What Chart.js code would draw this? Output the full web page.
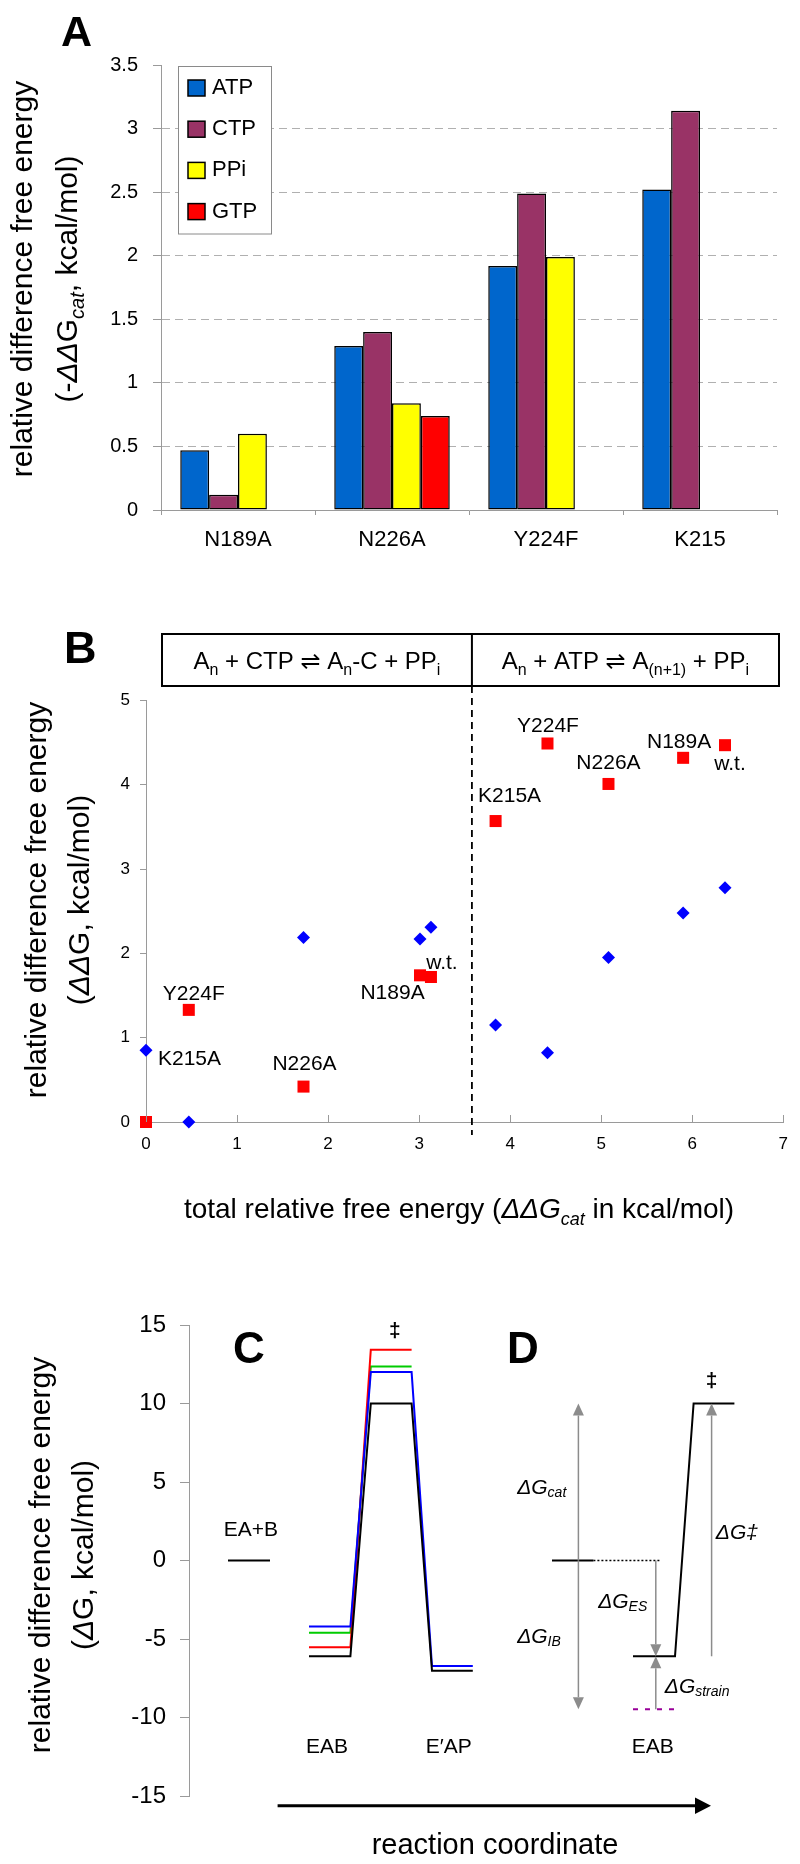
<!DOCTYPE html>
<html><head><meta charset="utf-8">
<script src="https://cdn.jsdelivr.net/npm/chart.js@4.4.0/dist/chart.umd.min.js"></script>
<style>
html,body{margin:0;padding:0;background:#fff;}
body{width:800px;height:1864px;position:relative;overflow:hidden;}
.pane{position:absolute;left:0;}
canvas{display:block;}
</style></head><body>
<div class="pane" style="top:0px"><canvas id="cA" width="800" height="600"></canvas></div>
<div class="pane" style="top:600px"><canvas id="cB" width="800" height="640"></canvas></div>
<div class="pane" style="top:1240px"><canvas id="cC" width="800" height="624"></canvas></div>
<script>
// ---------------- DATA ----------------
// Panel A
const categoriesA = ['N189A', 'N226A', 'Y224F', 'K215'];
const seriesNamesA = ['ATP', 'CTP', 'PPi', 'GTP'];
const atpA = [0.47, 1.29, 1.92, 2.52];
const ctpA = [0.12, 1.40, 2.49, 3.14];
const ppiA = [0.60, 0.84, 1.99, null];
const gtpA = [null, 0.74, null, null];
const yTicksA = [0, 0.5, 1, 1.5, 2, 2.5, 3, 3.5];

// Panel B
const mutantsB = ['w.t.', 'N189A', 'N226A', 'Y224F', 'K215A'];
const ctpDDGcat = [3.13, 3.01, 1.73, 0.47, 0.00];
const ctpRedB = [1.72, 1.74, 0.42, 1.33, 0.00];
const ctpBlueB = [2.31, 2.17, 2.19, 0.00, 0.85];
const atpDDGcat = [6.36, 5.90, 5.08, 4.41, 3.84];
const atpRedB = [4.47, 4.32, 4.01, 4.49, 3.57];
const atpBlueB = [2.78, 2.48, 1.95, 0.82, 1.15];
const dividerB = 3.58;
const xTicksB = [0, 1, 2, 3, 4, 5, 6, 7];
const yTicksB = [0, 1, 2, 3, 4, 5];

// Panel C / D (free energy profiles)
const stateXC = [[2.00, 2.69], [3.03, 3.71], [4.05, 4.73]];   // EAB, TS, E'AP
const blackC = [-6.10, 10.00, -7.02];
const blueC = [-4.21, 12.00, -6.72];
const greenC = [-4.60, 12.36];
const redC = [-5.53, 13.42];
const eaBX = [0.65, 1.35];
const eaBG = 0;
const initXD = [6.05, 6.74];
const initGD = 0;
const refXD = [6.74, 7.85];
const stateXD = [[7.40, 8.10], [8.41, 9.09]];   // EAB, TS
const profileD = [-6.10, 10.00];
const strainXD = [7.40, 8.10];
const strainGD = -9.47;
const yTicksC = [-15, -10, -5, 0, 5, 10, 15];
const arrowsD = [[6.49, 0, 10], [6.49, 0, -9.47], [7.78, 0, -6.10], [7.78, -9.47, -6.10], [8.71, -6.10, 10]];

// ---------------- HELPERS ----------------
const F = "'Liberation Sans', Arial, 'DejaVu Sans', sans-serif";
Chart.defaults.font.family = F;
Chart.defaults.color = '#000';
const AX = '#9a9a9a';

function rich(ctx, parts, x, y, o) {
  const size = o.size;
  const fontFor = p => (p.i ? 'italic ' : '') + (o.bold ? 'bold ' : '') +
    ((p.sub || p.sup) ? Math.round(size * 0.66) : size) + 'px ' + F;
  let w = 0;
  parts.forEach(p => { ctx.font = fontFor(p); p._w = ctx.measureText(p.t).width; w += p._w; });
  ctx.save();
  ctx.translate(x, y);
  if (o.rot) ctx.rotate(o.rot);
  let cx = o.align === 'center' ? -w / 2 : (o.align === 'right' ? -w : 0);
  ctx.fillStyle = o.color || '#000';
  ctx.textBaseline = o.baseline || 'alphabetic';
  ctx.textAlign = 'left';
  parts.forEach(p => {
    ctx.font = fontFor(p);
    const dy = p.sub ? size * 0.24 : (p.sup ? -size * 0.35 : 0);
    ctx.fillText(p.t, cx, dy);
    cx += p._w;
  });
  ctx.restore();
}
function T(t, extra) { return Object.assign({t: t}, extra || {}); }

// ---------------- PANEL A ----------------
const colorsA = ['#0066CC', '#993366', '#FFFF00', '#FF0000'];
const decorA = {
  id: 'decorA',
  afterDraw(chart) {
    const ctx = chart.ctx;
    rich(ctx, [T('A')], 61, 46, {size: 43, bold: true});
    rich(ctx, [T('relative difference free energy')], 32, 279, {size: 30, rot: -Math.PI / 2, align: 'center'});
    rich(ctx, [T('(-'), T('ΔΔ', {i: 1}), T('G'), T('cat', {i: 1, sub: 1}), T(', kcal/mol)')], 77, 279,
      {size: 30, rot: -Math.PI / 2, align: 'center'});
    // legend
    ctx.save();
    ctx.fillStyle = '#fff';
    ctx.strokeStyle = '#8a8a8a';
    ctx.lineWidth = 1;
    ctx.fillRect(178.5, 66.5, 93, 167.5);
    ctx.strokeRect(178.5, 66.5, 93, 167.5);
    chart.data.datasets.forEach((ds, i) => {
      const top = 80 + i * 41.2;
      ctx.fillStyle = ds.backgroundColor;
      ctx.fillRect(188, top, 17, 16);
      ctx.strokeStyle = '#000';
      ctx.lineWidth = 1.5;
      ctx.strokeRect(188, top, 17, 16);
      rich(ctx, [T(ds.label)], 212, top + 8, {size: 22, baseline: 'middle'});
    });
    ctx.restore();
  }
};
new Chart(document.getElementById('cA'), {
  type: 'bar',
  data: {
    labels: categoriesA,
    datasets: [atpA, ctpA, ppiA, gtpA].map((d, i) => ({
      label: seriesNamesA[i], data: d, backgroundColor: colorsA[i],
      borderColor: '#000', borderWidth: 1.5, borderSkipped: false,
      categoryPercentage: 0.75, barPercentage: 1.0
    }))
  },
  options: {
    responsive: false, animation: false, devicePixelRatio: 1,
    layout: {padding: {left: 0, top: 65, right: 23, bottom: 0}},
    plugins: {legend: {display: false}, tooltip: {enabled: false}},
    scales: {
      x: {
        grid: {display: true, drawOnChartArea: false, drawTicks: true, tickLength: 5, color: AX, tickColor: AX, offset: true},
        border: {display: true, color: AX, width: 1},
        ticks: {font: {size: 22}, color: '#000', padding: 12, maxRotation: 0},
        afterFit: s => { s.height = 90; }
      },
      y: {
        min: yTicksA[0], max: yTicksA[yTicksA.length - 1],
        afterBuildTicks: s => { s.ticks = yTicksA.map(v => ({value: v})); },
        ticks: {font: {size: 20}, color: '#000', padding: 15, callback: v => String(v)},
        grid: {
          color: c => (c.tick && (c.tick.value === 0 || c.tick.value === 3.5)) ? 'rgba(0,0,0,0)' : '#b0b0b0',
          tickColor: AX, tickLength: 8, tickBorderDash: [], lineWidth: 1
        },
        border: {display: true, color: AX, dash: [8, 5]},
        afterFit: s => { s.width = 161; }
      }
    }
  },
  plugins: [decorA]
});

// ---------------- PANEL B ----------------
const atpLabelOff = [[5, 19.5], [-4, -15.5], [0, -20.5], [0.5, -17], [14, -25]];
const ctpLabelOff = [[11, -14], [-27.5, 18], [1, -22], [5, -16], [43.5, -63]];
const decorB = {
  id: 'decorB',
  afterDraw(chart) {
    const ctx = chart.ctx, xs = chart.scales.x, ys = chart.scales.y;
    const xd = xs.getPixelForValue(dividerB);
    ctx.save();
    // inside ticks on x axis
    ctx.strokeStyle = AX; ctx.lineWidth = 1;
    xTicksB.forEach(v => {
      const px = Math.round(xs.getPixelForValue(v)) + 0.5;
      ctx.beginPath(); ctx.moveTo(px, ys.bottom); ctx.lineTo(px, ys.bottom - 7); ctx.stroke();
    });
    // reaction box
    ctx.strokeStyle = '#000'; ctx.lineWidth = 2;
    ctx.strokeRect(162, 34, 617, 52);
    ctx.beginPath(); ctx.moveTo(xd, 34); ctx.lineTo(xd, 86); ctx.stroke();
    // dashed divider
    ctx.lineWidth = 1.8; ctx.setLineDash([7, 5]);
    ctx.beginPath(); ctx.moveTo(xd, 86); ctx.lineTo(xd, ys.bottom + 13); ctx.stroke();
    ctx.setLineDash([]);
    ctx.restore();
    rich(ctx, [T('A'), T('n', {sub: 1}), T(' + CTP ⇌ A'), T('n', {sub: 1}), T('-C + PP'), T('i', {sub: 1})],
      (162 + xd) / 2, 69, {size: 24, align: 'center'});
    rich(ctx, [T('A'), T('n', {sub: 1}), T(' + ATP ⇌ A'), T('(n+1)', {sub: 1}), T(' + PP'), T('i', {sub: 1})],
      (xd + 779) / 2, 69, {size: 24, align: 'center'});
    // point labels
    mutantsB.forEach((m, i) => {
      rich(ctx, [T(m)], xs.getPixelForValue(atpDDGcat[i]) + atpLabelOff[i][0],
        ys.getPixelForValue(atpRedB[i]) + atpLabelOff[i][1], {size: 21, align: 'center', baseline: 'middle'});
      rich(ctx, [T(m)], xs.getPixelForValue(ctpDDGcat[i]) + ctpLabelOff[i][0],
        ys.getPixelForValue(ctpRedB[i]) + ctpLabelOff[i][1], {size: 21, align: 'center', baseline: 'middle'});
    });
    rich(ctx, [T('B')], 64, 63, {size: 45, bold: true});
    rich(ctx, [T('relative difference free energy')], 46, 300, {size: 30, rot: -Math.PI / 2, align: 'center'});
    rich(ctx, [T('('), T('ΔΔ', {i: 1}), T('G, kcal/mol)')], 89, 300, {size: 30, rot: -Math.PI / 2, align: 'center'});
    rich(ctx, [T('total relative free energy ('), T('ΔΔ', {i: 1}), T('G', {i: 1}), T('cat', {i: 1, sub: 1}), T(' in kcal/mol)')],
      459, 618, {size: 28, align: 'center'});
  }
};
const pts = (xa, ya) => xa.map((x, i) => ({x: x, y: ya[i]}));
new Chart(document.getElementById('cB'), {
  type: 'scatter',
  data: {
    datasets: [
      {label: 'CTP ΔG (red)', data: pts(ctpDDGcat, ctpRedB), pointStyle: 'rect', pointRadius: 8.5, backgroundColor: '#FF0000', borderColor: '#FF0000', borderWidth: 0, clip: false},
      {label: 'ATP ΔG (red)', data: pts(atpDDGcat, atpRedB), pointStyle: 'rect', pointRadius: 8.5, backgroundColor: '#FF0000', borderColor: '#FF0000', borderWidth: 0, clip: false},
      {label: 'CTP ΔG (blue)', data: pts(ctpDDGcat, ctpBlueB), pointStyle: 'rectRot', pointRadius: 6.5, backgroundColor: '#0000FF', borderColor: '#0000FF', borderWidth: 0, clip: false},
      {label: 'ATP ΔG (blue)', data: pts(atpDDGcat, atpBlueB), pointStyle: 'rectRot', pointRadius: 6.5, backgroundColor: '#0000FF', borderColor: '#0000FF', borderWidth: 0, clip: false}
    ]
  },
  options: {
    responsive: false, animation: false, devicePixelRatio: 1,
    layout: {padding: {left: 0, top: 100.5, right: 13, bottom: 0}},
    plugins: {legend: {display: false}, tooltip: {enabled: false}},
    scales: {
      x: {
        type: 'linear', min: xTicksB[0], max: xTicksB[xTicksB.length - 1],
        afterBuildTicks: s => { s.ticks = xTicksB.map(v => ({value: v})); },
        grid: {display: true, drawOnChartArea: false, drawTicks: false},
        border: {display: true, color: AX},
        ticks: {font: {size: 17}, color: '#000', padding: 12},
        afterFit: s => { s.height = 118; }
      },
      y: {
        min: yTicksB[0], max: yTicksB[yTicksB.length - 1],
        afterBuildTicks: s => { s.ticks = yTicksB.map(v => ({value: v})); },
        grid: {display: true, drawOnChartArea: false, tickLength: 6, tickColor: AX},
        border: {display: true, color: AX},
        ticks: {font: {size: 17}, color: '#000', padding: 10},
        afterFit: s => { s.width = 146; }
      }
    }
  },
  plugins: [decorB]
});

// ---------------- PANEL C / D ----------------
function profile(stateX, gs) {
  const out = [];
  gs.forEach((g, i) => { out.push({x: stateX[i][0], y: g}); out.push({x: stateX[i][1], y: g}); });
  return out;
}
const lineDs = (label, data, color, extra) => Object.assign({
  label: label, data: data, borderColor: color, backgroundColor: color, borderWidth: 2,
  pointRadius: 0, tension: 0, fill: false
}, extra || {});
const cLabels = [['EA+B', 1.03, 1.94], ['EAB', 2.30, -11.9], ['E′AP', 4.33, -11.9], ['EAB', 7.73, -11.9]];
const daggers = [[3.43, 14.6], [8.71, 11.4]];
const dLabels = [
  [[T('ΔG', {i: 1}), T('cat', {i: 1, sub: 1})], 5.47, 4.6],
  [[T('ΔG', {i: 1}), T('IB', {i: 1, sub: 1})], 5.47, -4.87],
  [[T('ΔG', {i: 1}), T('ES', {i: 1, sub: 1})], 6.82, -2.64],
  [[T('ΔG', {i: 1}), T('strain', {i: 1, sub: 1})], 7.93, -8.05],
  [[T('ΔG‡', {i: 1})], 8.78, 1.74]
];
function arrow(ctx, x, y0, y1, color) {
  const dir = Math.sign(y1 - y0), hl = 12, hw = 5.5;
  ctx.strokeStyle = color; ctx.fillStyle = color; ctx.lineWidth = 1.5;
  ctx.beginPath(); ctx.moveTo(x, y0); ctx.lineTo(x, y1 - dir * hl); ctx.stroke();
  ctx.beginPath(); ctx.moveTo(x, y1); ctx.lineTo(x - hw, y1 - dir * hl); ctx.lineTo(x + hw, y1 - dir * hl); ctx.closePath(); ctx.fill();
}
const decorC = {
  id: 'decorC',
  afterDraw(chart) {
    const ctx = chart.ctx, xs = chart.scales.x, ys = chart.scales.y;
    ctx.save();
    arrowsD.forEach(a => arrow(ctx, xs.getPixelForValue(a[0]), ys.getPixelForValue(a[1]), ys.getPixelForValue(a[2]), '#8c8c8c'));
    // reaction coordinate arrow
    ctx.strokeStyle = '#000'; ctx.fillStyle = '#000'; ctx.lineWidth = 3;
    ctx.beginPath(); ctx.moveTo(277.6, 565.7); ctx.lineTo(697, 565.7); ctx.stroke();
    ctx.beginPath(); ctx.moveTo(711, 565.7); ctx.lineTo(695, 557.5); ctx.lineTo(695, 573.9); ctx.closePath(); ctx.fill();
    ctx.restore();
    cLabels.forEach(l => rich(ctx, [T(l[0])], xs.getPixelForValue(l[1]), ys.getPixelForValue(l[2]), {size: 21, align: 'center', baseline: 'middle'}));
    daggers.forEach(d => rich(ctx, [T('‡')], xs.getPixelForValue(d[0]), ys.getPixelForValue(d[1]), {size: 21, bold: true, align: 'center', baseline: 'middle'}));
    dLabels.forEach(l => rich(ctx, l[0], xs.getPixelForValue(l[1]), ys.getPixelForValue(l[2]), {size: 21, baseline: 'middle'}));
    rich(ctx, [T('C')], 233, 123, {size: 44, bold: true});
    rich(ctx, [T('D')], 507, 123, {size: 44, bold: true});
    rich(ctx, [T('relative difference free energy')], 50, 315, {size: 30, rot: -Math.PI / 2, align: 'center'});
    rich(ctx, [T('('), T('Δ', {i: 1}), T('G, kcal/mol)')], 93, 315, {size: 30, rot: -Math.PI / 2, align: 'center'});
    rich(ctx, [T('reaction coordinate')], 495, 614, {size: 29, align: 'center'});
  }
};
new Chart(document.getElementById('cC'), {
  type: 'line',
  data: {
    datasets: [
      lineDs('EA+B', [{x: eaBX[0], y: eaBG}, {x: eaBX[1], y: eaBG}], '#000'),
      lineDs('wild type', profile(stateXC, blackC), '#000'),
      lineDs('mutant (blue)', profile(stateXC, blueC), '#0000FF'),
      lineDs('mutant (red)', profile(stateXC, redC), '#FF0000'),
      lineDs('mutant (green)', profile(stateXC, greenC), '#00CC00'),
      lineDs('D initial', [{x: initXD[0], y: initGD}, {x: initXD[1], y: initGD}], '#000'),
      lineDs('D reference', [{x: refXD[0], y: initGD}, {x: refXD[1], y: initGD}], '#000', {borderWidth: 1.5, borderDash: [2, 2]}),
      lineDs('D profile', profile(stateXD, profileD), '#000'),
      lineDs('D strain-free', [{x: strainXD[0], y: strainGD}, {x: strainXD[1], y: strainGD}], '#990099', {borderDash: [5, 7]})
    ]
  },
  options: {
    responsive: false, animation: false, devicePixelRatio: 1,
    layout: {padding: {left: 0, top: 85, right: 11, bottom: 68}},
    plugins: {legend: {display: false}, tooltip: {enabled: false}},
    scales: {
      x: {type: 'linear', min: 0, max: 10, display: false},
      y: {
        min: yTicksC[0], max: yTicksC[yTicksC.length - 1],
        afterBuildTicks: s => { s.ticks = yTicksC.map(v => ({value: v})); },
        grid: {display: true, drawOnChartArea: false, tickLength: 9, tickColor: AX},
        border: {display: true, color: AX},
        ticks: {font: {size: 24}, color: '#000', padding: 14},
        afterFit: s => { s.width = 189; }
      }
    }
  },
  plugins: [decorC]
});
</script>
</body></html>
